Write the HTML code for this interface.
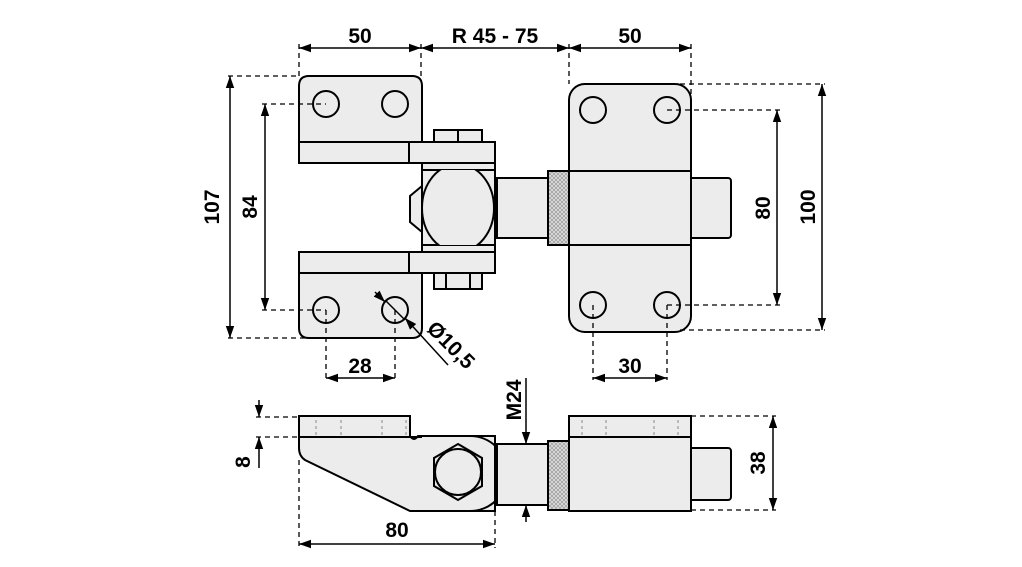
<!DOCTYPE html>
<html><head><meta charset="utf-8"><style>
html,body{margin:0;padding:0;background:#fff}
svg{display:block}
text{font-family:"Liberation Sans",sans-serif;font-weight:bold;font-size:21px;fill:#000}
</style></head><body>
<svg width="1022" height="567" viewBox="0 0 1022 567" xmlns="http://www.w3.org/2000/svg">
<defs>
<marker id="a" viewBox="0 0 10 10" refX="10" refY="5" markerWidth="8" markerHeight="8" orient="auto-start-reverse"><path d="M0,1.5 L10,5 L0,8.5 Z" fill="#000"/></marker>
<pattern id="k" width="4" height="4" patternUnits="userSpaceOnUse"><rect width="4" height="4" fill="#ddd"/><path d="M0,0 L4,4 M4,0 L0,4" stroke="#999" stroke-width="0.7"/></pattern>
<clipPath id="cb"><rect x="422" y="170" width="73" height="75"/></clipPath>
</defs>
<g fill="#ececec" stroke="#000" stroke-width="2">
<path d="M299,142 V86 Q299,76 309,76 H412 Q422,76 422,86 V142 Z"/>
<rect x="299" y="142" width="123" height="21"/>
<rect x="409" y="142" width="86" height="21"/>
<rect x="434" y="130" width="48" height="12"/>
<line x1="458" y1="130" x2="458" y2="142"/>
<rect x="422" y="163" width="73" height="89"/>
<line x1="422" y1="170" x2="495" y2="170"/><line x1="422" y1="245" x2="495" y2="245"/>
<ellipse cx="458" cy="208" rx="36" ry="44" clip-path="url(#cb)"/>
<path d="M422,186 L410,196 L410,222 L422,232 Z"/>
<path d="M299,273 V328 Q299,338 309,338 H412 Q422,338 422,328 V273 Z"/>
<rect x="299" y="252" width="123" height="21"/>
<rect x="409" y="252" width="86" height="21"/>
<rect x="434" y="273" width="48" height="16"/>
<line x1="446" y1="273" x2="446" y2="289"/><line x1="470" y1="273" x2="470" y2="289"/>
<circle cx="326" cy="104" r="13"/><circle cx="395" cy="104" r="13"/>
<circle cx="326" cy="310" r="13"/><circle cx="395" cy="310" r="13"/>
<rect x="497" y="178" width="51" height="60"/>
<rect x="548" y="171" width="21" height="74" fill="url(#k)"/>
<rect x="689" y="178" width="42" height="60" rx="3"/>
<rect x="569" y="84" width="122" height="248" rx="16"/>
<line x1="569" y1="171" x2="691" y2="171"/><line x1="569" y1="245" x2="691" y2="245"/>
<circle cx="593" cy="110" r="13"/><circle cx="667" cy="110" r="13"/>
<circle cx="593" cy="305" r="13"/><circle cx="667" cy="305" r="13"/>
<path d="M299,416 H410 V436 Q414,442 418,436 L495,436 V511 H410 L305,460 Q299,456 299,448 Z"/>
<line x1="299" y1="437" x2="422" y2="437"/>
<path d="M470,436 A37,37 0 0 1 470,511" fill="none"/>
<path d="M458,444 L482,458 L482,486 L458,500 L434,486 L434,458 Z"/>
<circle cx="458" cy="472" r="23"/>
<rect x="497" y="444" width="51" height="61"/>
<rect x="548" y="441" width="21" height="69" fill="url(#k)"/>
<rect x="689" y="448" width="42" height="52" rx="3"/>
<rect x="569" y="416" width="122" height="95"/>
<line x1="569" y1="437" x2="691" y2="437"/>
</g>
<g stroke="#888" stroke-width="1" stroke-dasharray="3,3">
<line x1="316" y1="420" x2="316" y2="436"/><line x1="341" y1="420" x2="341" y2="436"/><line x1="382" y1="420" x2="382" y2="436"/><line x1="406" y1="420" x2="406" y2="436"/>
<line x1="582" y1="420" x2="582" y2="436"/><line x1="606" y1="420" x2="606" y2="436"/><line x1="654" y1="420" x2="654" y2="436"/><line x1="678" y1="420" x2="678" y2="436"/>
</g>
<g stroke="#000" stroke-width="1.3" stroke-dasharray="5,4" fill="none">
<line x1="299" y1="44" x2="299" y2="76"/><line x1="421" y1="44" x2="421" y2="80"/>
<line x1="569" y1="44" x2="569" y2="84"/><line x1="691" y1="44" x2="691" y2="95"/>
<line x1="228" y1="76" x2="299" y2="76"/><line x1="228" y1="338" x2="305" y2="338"/>
<line x1="262" y1="104" x2="326" y2="104"/><line x1="262" y1="310" x2="326" y2="310"/>
<line x1="326" y1="310" x2="326" y2="380"/><line x1="395" y1="310" x2="395" y2="380"/>
<line x1="593" y1="305" x2="593" y2="380"/><line x1="667" y1="305" x2="667" y2="380"/>
<line x1="667" y1="110" x2="780" y2="110"/><line x1="667" y1="305" x2="780" y2="305"/>
<line x1="680" y1="84" x2="825" y2="84"/><line x1="680" y1="330" x2="825" y2="330"/>
<line x1="256" y1="417" x2="299" y2="417"/><line x1="256" y1="437" x2="299" y2="437"/>
<line x1="691" y1="416" x2="776" y2="416"/><line x1="691" y1="510" x2="776" y2="510"/>
<line x1="299" y1="460" x2="299" y2="548"/><line x1="495" y1="511" x2="495" y2="548"/>
</g>
<g stroke="#000" stroke-width="1.5" fill="none">
<line x1="299" y1="48" x2="421" y2="48" marker-start="url(#a)" marker-end="url(#a)"/>
<line x1="421" y1="48" x2="569" y2="48" marker-start="url(#a)" marker-end="url(#a)"/>
<line x1="569" y1="48" x2="691" y2="48" marker-start="url(#a)" marker-end="url(#a)"/>
<line x1="230" y1="76" x2="230" y2="338" marker-start="url(#a)" marker-end="url(#a)"/>
<line x1="265" y1="104" x2="265" y2="310" marker-start="url(#a)" marker-end="url(#a)"/>
<line x1="777" y1="110" x2="777" y2="305" marker-start="url(#a)" marker-end="url(#a)"/>
<line x1="822" y1="84" x2="822" y2="330" marker-start="url(#a)" marker-end="url(#a)"/>
<line x1="326" y1="378" x2="395" y2="378" marker-start="url(#a)" marker-end="url(#a)"/>
<line x1="593" y1="378" x2="667" y2="378" marker-start="url(#a)" marker-end="url(#a)"/>
<line x1="375" y1="292" x2="385" y2="302" marker-end="url(#a)"/>
<line x1="448" y1="365" x2="405" y2="318" marker-end="url(#a)"/>
<line x1="385" y1="300" x2="405" y2="320"/>
<line x1="259" y1="400" x2="259" y2="417" marker-end="url(#a)"/>
<line x1="259" y1="468" x2="259" y2="437" marker-end="url(#a)"/>
<line x1="526" y1="378" x2="526" y2="444" marker-end="url(#a)"/>
<line x1="526" y1="522" x2="526" y2="505" marker-end="url(#a)"/>
<line x1="773" y1="416" x2="773" y2="510" marker-start="url(#a)" marker-end="url(#a)"/>
<line x1="299" y1="544" x2="495" y2="544" marker-start="url(#a)" marker-end="url(#a)"/>
</g>
<g text-anchor="middle">
<text x="360" y="43">50</text>
<text x="495" y="43">R 45 - 75</text>
<text x="630" y="43">50</text>
<text x="360" y="373">28</text>
<text x="630" y="373">30</text>
<text x="397" y="537">80</text>
<text transform="translate(219,207) rotate(-90)">107</text>
<text transform="translate(257,207) rotate(-90)">84</text>
<text transform="translate(770,208) rotate(-90)">80</text>
<text transform="translate(815,207) rotate(-90)">100</text>
<text transform="translate(250,462) rotate(-90)">8</text>
<text transform="translate(521,400) rotate(-90)">M24</text>
<text transform="translate(765,463) rotate(-90)">38</text>
<text transform="translate(446,350) rotate(45)">Ø10,5</text>
</g>
</svg>
</body></html>
